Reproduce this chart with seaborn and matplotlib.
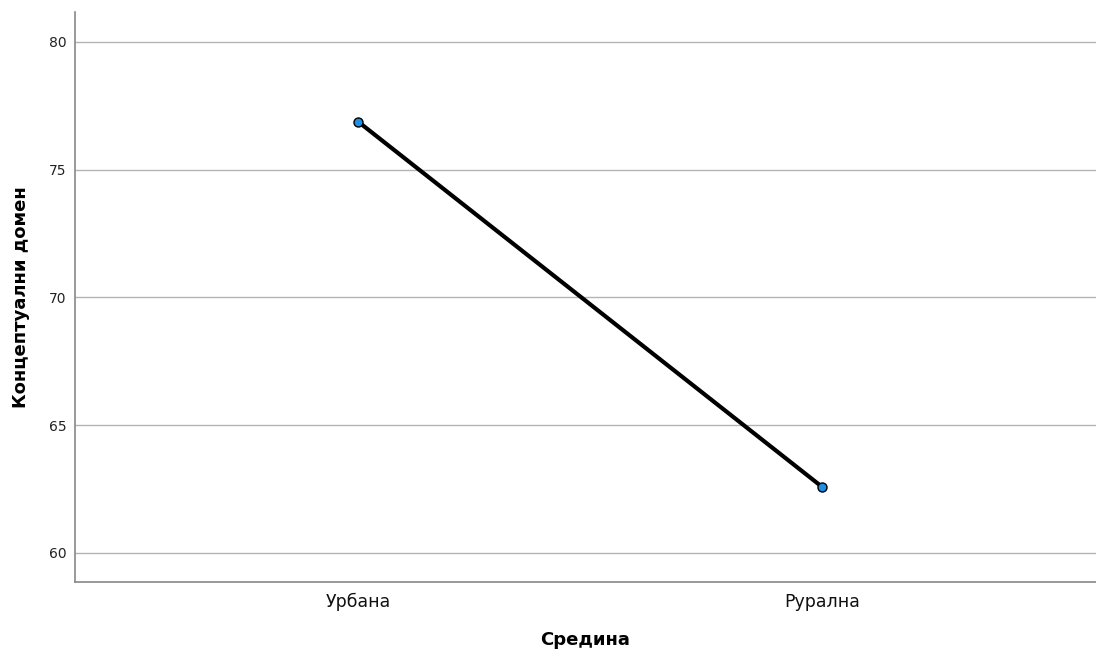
import matplotlib
matplotlib.use('Agg')
import matplotlib.pyplot as plt
import seaborn as sns
import pandas as pd

# Data
categories = ['Урбана', 'Рурална']
means = [76.88, 62.58]

df = pd.DataFrame({'Средина': categories, 'Концептуални домен': means})

sns.set_style('white')
plt.rcParams['font.family'] = ['DejaVu Sans']

fig = plt.figure(figsize=(10.96, 6.56), dpi=100)
ax = fig.add_axes([0.0684, 0.1128, 0.9316, 0.8689])

# grid lines behind
ax.set_axisbelow(True)
ax.yaxis.grid(True, color='#b4b4b4', linewidth=1.0)

sns.lineplot(data=df, x='Средина', y='Концептуални домен', ax=ax,
             color='black', linewidth=3, marker='o', markersize=6.5,
             markerfacecolor='#1f8fe6', markeredgecolor='black',
             markeredgewidth=1.0, sort=False)

ax.set_xlim(-0.61, 1.59)
ax.set_ylim(58.86, 81.17)
ax.set_yticks([60, 65, 70, 75, 80])

# spines like the reference
for s in ['top', 'right']:
    ax.spines[s].set_visible(False)
for s in ['left', 'bottom']:
    ax.spines[s].set_color('#888888')
    ax.spines[s].set_linewidth(1.2)

ax.tick_params(axis='both', length=0)
ax.tick_params(axis='y', labelsize=10, pad=6, labelcolor='#222222')
ax.tick_params(axis='x', labelsize=12.5, pad=8, labelcolor='#111111')

ax.set_xlabel('Средина', fontsize=13, fontweight='bold', labelpad=14, color='black')
ax.set_ylabel('Концептуални домен', fontsize=13, fontweight='bold', labelpad=14, color='black')

fig.savefig('out.png', dpi=100)
